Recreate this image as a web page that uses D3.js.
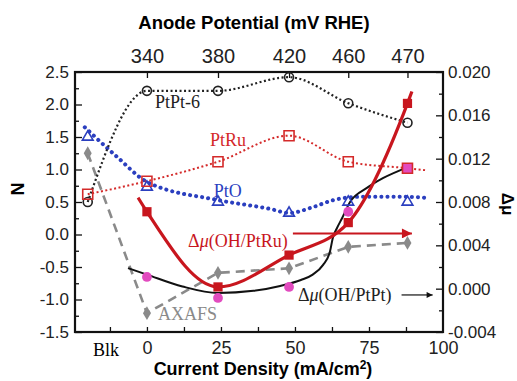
<!DOCTYPE html>
<html>
<head>
<meta charset="utf-8">
<script src="https://cdn.jsdelivr.net/npm/d3@7"></script>
<style>
  body { margin: 0; background: #fff; }
  svg { display: block; }
  .tick text { font-family: "Liberation Sans", Arial, sans-serif; fill: #222; }
  .serif { font-family: "Liberation Serif", "Times New Roman", serif; }
</style>
</head>
<body>
<div id="chart"></div>
<script>
// x positions (current density, mA/cm2); the bulk sample sits left of zero
const blkX = -20;
const densities = [0, 24, 48, 68, 88];
const potentials = ['340', '380', '420', '460', '470'];

// left axis (N): Blk first, then one value per density
const ptpt6N = [0.5, 2.21, 2.21, 2.42, 2.02, 1.72];
const ptruN = [0.62, 0.82, 1.12, 1.52, 1.12, 1.02];
const ptoN = [1.5, 0.73, 0.5, 0.33, 0.5, 0.5];
const axafsN = [1.25, -1.21, -0.59, -0.52, -0.19, -0.13];
const ptruTail = [94, 0.99];

// smooth fit drawn through PtO points
const ptoFitX = [-21, -10, 0, 24, 42, 48, 56, 63, 72, 88, 95];
const ptoFitN = [1.65, 1.19, 0.81, 0.53, 0.39, 0.33, 0.42, 0.53, 0.58, 0.58, 0.56];

// right axis (delta mu)
const dmuPtRu = [0.0071, 0.00016, 0.0031, 0.0061, 0.0171];
const dmuPtRuStart = [-3, 0.0084];
const dmuPtRuEnd = [89.5, 0.0182];
const dmuPtPt = [0.00108, -0.00086, 0.00016, 0.0071, 0.0111];
const ptptFitX = [-6.4, 0, 12, 24, 36, 45, 52, 56, 59.5, 61.8, 62.8, 64.2, 65.9, 68.6, 74.3, 79.7, 88];
const ptptFitMu = [0.0019, 0.0013, 0.0002, -0.0004, -0.0002, 0.00025, 0.0008, 0.0013, 0.0022, 0.0034, 0.0047, 0.0056, 0.0065, 0.008, 0.0093, 0.0102, 0.0112];

// annotation arrows: [x from, x to, delta mu]
const ruArrow = [49.3, 89.5, 0.0051];
const ptArrow = [86, 96.5, -0.00058];

const leftTicks = [-1.5, -1.0, -0.5, 0, 0.5, 1.0, 1.5, 2.0, 2.5];
const rightTicks = [-0.004, 0, 0.004, 0.008, 0.012, 0.016, 0.02];
const bottomTicks = [0, 25, 50, 75, 100];

const width = 517, height = 381;
const red = '#d42a2a', darkRed = '#c8161e', blue = '#2b3fbf', gray = '#8a8a8a', pink = '#e24bbf';

const svg = d3.select('#chart').append('svg')
  .attr('width', width)
  .attr('height', height);

const x = d3.scaleLinear().domain([-24.3, 100]).range([75, 443]);
const yN = d3.scaleLinear().domain([-1.5, 2.5]).range([332, 72]);
const yMu = d3.scaleLinear().domain([-0.004, 0.02]).range([332, 72]);

const allX = [blkX, ...densities];

// Axes
function styleAxis(g, size) {
  g.select('.domain').remove();
  g.selectAll('.tick line').attr('stroke', '#111').attr('stroke-width', 1.3);
  g.selectAll('.tick text').style('font-size', size + 'px');
}

svg.append('g')
  .attr('transform', 'translate(75,0)')
  .call(d3.axisLeft(yN).tickValues(d3.range(-1.25, 2.5, 0.5)).tickSize(-4).tickFormat(''))
  .call(g => styleAxis(g, 17));
svg.append('g')
  .attr('transform', 'translate(75,0)')
  .call(d3.axisLeft(yN).tickValues(leftTicks).tickSize(-7).tickPadding(6).tickFormat(d => d.toFixed(1)))
  .call(g => styleAxis(g, 17));

svg.append('g')
  .attr('transform', 'translate(443,0)')
  .call(d3.axisRight(yMu).tickValues(d3.range(-0.002, 0.02, 0.004)).tickSize(-4).tickFormat(''))
  .call(g => styleAxis(g, 17));
svg.append('g')
  .attr('transform', 'translate(443,0)')
  .call(d3.axisRight(yMu).tickValues(rightTicks).tickSize(-7).tickPadding(5).tickFormat(d => d.toFixed(3)))
  .call(g => styleAxis(g, 17));

svg.append('g')
  .attr('transform', 'translate(0,332)')
  .call(d3.axisBottom(x).tickValues(d3.range(-12.5, 100, 12.5)).tickSize(-5).tickFormat(''))
  .call(g => styleAxis(g, 18));
svg.append('g')
  .attr('transform', 'translate(0,332)')
  .call(d3.axisBottom(x).tickValues(bottomTicks).tickSize(0).tickPadding(9).tickFormat(d3.format('d')))
  .call(g => styleAxis(g, 18));

svg.append('g')
  .attr('transform', 'translate(0,72)')
  .call(d3.axisTop(x).tickValues(densities).tickSize(-6).tickPadding(9).tickFormat((d, i) => potentials[i]))
  .call(g => styleAxis(g, 20));

svg.append('text')
  .attr('class', 'serif')
  .attr('x', x(-13.8)).attr('y', 356)
  .attr('text-anchor', 'middle')
  .style('font-size', '18px')
  .text('Blk');

// Frame
svg.append('rect')
  .attr('x', 75).attr('y', 72)
  .attr('width', 368).attr('height', 260)
  .attr('fill', 'none')
  .attr('stroke', '#111')
  .attr('stroke-width', 2.2);

// Axis titles
svg.append('text')
  .attr('x', 254).attr('y', 29)
  .attr('text-anchor', 'middle')
  .style('font-family', '"Liberation Sans", Arial, sans-serif')
  .style('font-weight', 'bold')
  .style('font-size', '18.5px')
  .text('Anode Potential (mV RHE)');

const xTitle = svg.append('text')
  .attr('x', 263).attr('y', 375)
  .attr('text-anchor', 'middle')
  .style('font-family', '"Liberation Sans", Arial, sans-serif')
  .style('font-weight', 'bold')
  .style('font-size', '18px');
xTitle.append('tspan').text('Current Density (mA/cm');
xTitle.append('tspan').attr('dy', -6).style('font-size', '12px').text('2');
xTitle.append('tspan').attr('dy', 6).text(')');

svg.append('text')
  .attr('transform', 'translate(24,189) rotate(-90)')
  .attr('text-anchor', 'middle')
  .style('font-family', '"Liberation Sans", Arial, sans-serif')
  .style('font-weight', 'bold')
  .style('font-size', '18px')
  .text('N');

svg.append('text')
  .attr('transform', 'translate(502,204) rotate(90)')
  .attr('text-anchor', 'middle')
  .style('font-family', '"Liberation Sans", Arial, sans-serif')
  .style('font-weight', 'bold')
  .style('font-size', '17px')
  .text('Δμ');

// Lines
const plot = svg.append('g');

function pts(xs, ys) { return xs.map((d, i) => [d, ys[i]]); }

const lineN = d3.line().x(d => x(d[0])).y(d => yN(d[1]));
const lineMu = d3.line().x(d => x(d[0])).y(d => yMu(d[1]));

// AXAFS dashed
plot.append('path')
  .attr('d', lineN.curve(d3.curveLinear)(pts(allX, axafsN)))
  .attr('fill', 'none').attr('stroke', gray).attr('stroke-width', 2.6)
  .attr('stroke-dasharray', '9,6');

// PtO dotted fit
plot.append('path')
  .attr('d', lineN.curve(d3.curveMonotoneX)(pts(ptoFitX, ptoFitN)))
  .attr('fill', 'none').attr('stroke', blue).attr('stroke-width', 4)
  .attr('stroke-linecap', 'round')
  .attr('stroke-dasharray', '0.1,6');

// PtPt-6 dotted
plot.append('path')
  .attr('d', lineN.curve(d3.curveMonotoneX)(pts(allX, ptpt6N)))
  .attr('fill', 'none').attr('stroke', '#222').attr('stroke-width', 2.2)
  .attr('stroke-dasharray', '2,2.5');

// PtRu dotted
plot.append('path')
  .attr('d', lineN.curve(d3.curveMonotoneX)([...pts(allX, ptruN), ptruTail]))
  .attr('fill', 'none').attr('stroke', red).attr('stroke-width', 2)
  .attr('stroke-dasharray', '2,2.5');

// delta mu PtPt fit (black)
plot.append('path')
  .attr('d', lineMu.curve(d3.curveMonotoneX)(pts(ptptFitX, ptptFitMu)))
  .attr('fill', 'none').attr('stroke', '#111').attr('stroke-width', 2);

// delta mu PtRu (thick red)
plot.append('path')
  .attr('d', lineMu.curve(d3.curveMonotoneX)([dmuPtRuStart, ...pts(densities, dmuPtRu), dmuPtRuEnd]))
  .attr('fill', 'none').attr('stroke', darkRed).attr('stroke-width', 3.2);

// Markers
const sym = (type, size) => d3.symbol().type(type).size(size)();

plot.selectAll('.pink').data(pts(densities, dmuPtPt)).join('path')
  .attr('transform', d => `translate(${x(d[0])},${yMu(d[1])})`)
  .attr('d', (d, i) => i === dmuPtPt.length - 1 ? sym(d3.symbolSquare, 110) : sym(d3.symbolCircle, 75))
  .attr('fill', pink);

plot.selectAll('.axafs').data(pts(allX, axafsN)).join('path')
  .attr('transform', d => `translate(${x(d[0])},${yN(d[1])})`)
  .attr('d', sym(d3.symbolDiamond, 55))
  .attr('fill', gray);

plot.selectAll('.pto').data(pts(allX, ptoN)).join('path')
  .attr('transform', d => `translate(${x(d[0])},${yN(d[1])})`)
  .attr('d', sym(d3.symbolTriangle, 50))
  .attr('fill', 'none').attr('stroke', blue).attr('stroke-width', 1.6);

plot.selectAll('.ptpt').data(pts(allX, ptpt6N)).join('circle')
  .attr('cx', d => x(d[0])).attr('cy', d => yN(d[1]))
  .attr('r', 4.5)
  .attr('fill', 'none').attr('stroke', '#222').attr('stroke-width', 1.6);

plot.selectAll('.ptru').data(pts(allX, ptruN)).join('path')
  .attr('transform', d => `translate(${x(d[0])},${yN(d[1])})`)
  .attr('d', sym(d3.symbolSquare, 100))
  .attr('fill', 'none').attr('stroke', red).attr('stroke-width', 1.6);

plot.selectAll('.dru').data(pts(densities, dmuPtRu)).join('path')
  .attr('transform', d => `translate(${x(d[0])},${yMu(d[1])})`)
  .attr('d', sym(d3.symbolSquare, 85))
  .attr('fill', darkRed);

// Arrows
const defs = svg.append('defs');
function arrowHead(id, color, w, h) {
  defs.append('marker')
    .attr('id', id)
    .attr('viewBox', '0 0 10 10')
    .attr('refX', 10).attr('refY', 5)
    .attr('markerUnits', 'userSpaceOnUse')
    .attr('markerWidth', w).attr('markerHeight', h)
    .attr('orient', 'auto')
    .append('path').attr('d', 'M0,0L10,5L0,10Z').attr('fill', color);
}
arrowHead('ah-red', darkRed, 12, 10);
arrowHead('ah-black', '#111', 7, 6);

plot.append('line')
  .attr('x1', x(ruArrow[0])).attr('x2', x(ruArrow[1]))
  .attr('y1', yMu(ruArrow[2])).attr('y2', yMu(ruArrow[2]))
  .attr('stroke', darkRed).attr('stroke-width', 2)
  .attr('marker-end', 'url(#ah-red)');

plot.append('line')
  .attr('x1', x(ptArrow[0])).attr('x2', x(ptArrow[1]))
  .attr('y1', yMu(ptArrow[2])).attr('y2', yMu(ptArrow[2]))
  .attr('stroke', '#111').attr('stroke-width', 1.2)
  .attr('marker-end', 'url(#ah-black)');

// Series labels
function label(xv, yv, text, color, italicMu) {
  const t = plot.append('text')
    .attr('class', 'serif')
    .attr('x', x(xv)).attr('y', yv)
    .attr('fill', color)
    .style('font-size', '18px');
  if (italicMu) {
    t.append('tspan').text('Δ');
    t.append('tspan').style('font-style', 'italic').text('μ');
    t.append('tspan').text(text);
  } else {
    t.text(text);
  }
}
label(2.7, yN(1.95), 'PtPt-6', '#222');
label(21.3, yN(1.36), 'PtRu', red);
label(22.6, yN(0.58), 'PtO', blue);
label(3.7, yN(-1.32), 'AXAFS', gray);
label(13.9, yMu(0.00385), '(OH/PtRu)', darkRed, true);
label(51, yMu(-0.00114), '(OH/PtPt)', '#222', true);
</script>
</body>
</html>
